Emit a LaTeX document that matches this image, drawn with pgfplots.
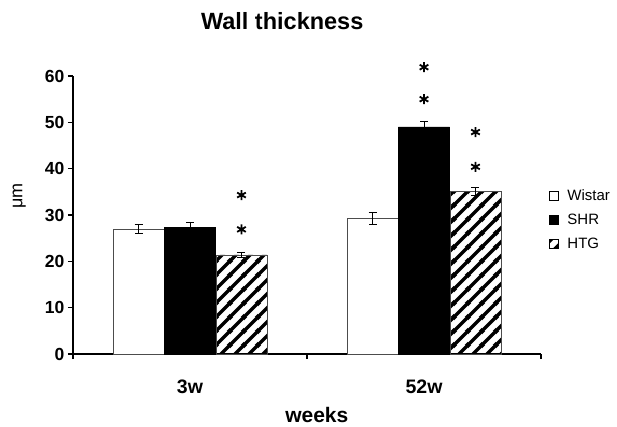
\documentclass[border=0pt]{standalone}
\usepackage{fontspec}
\setmainfont{Liberation Sans}
\usepackage{pgfplots}
\pgfplotsset{compat=1.18}
\usetikzlibrary{patterns.meta}
\tikzdeclarepattern{
  name=htgstripes,
  bounding box={(0pt,0pt) and (13.5pt,13.5pt)},
  tile size={(13.5pt,13.5pt)},
  code={
    \draw[line width=3.6pt] (-2pt,-2pt) -- (15.5pt,15.5pt);
    \draw[line width=3.6pt] (-2pt,11.5pt) -- (2pt,15.5pt);
    \draw[line width=3.6pt] (11.5pt,-2pt) -- (15.5pt,2pt);
  }
}
\begin{document}
\begin{tikzpicture}
\begin{axis}[
  scale only axis,
  width=468pt, height=278pt,
  xmin=0, xmax=2, ymin=0, ymax=60,
  clip=false,
  axis x line*=bottom, axis y line*=left,
  axis line style={line width=2pt, -},
  tick align=outside,
  major tick length=5pt,
  tick style={line width=1.6pt, black},
  ytick={0,10,...,60},
  yticklabel style={font=\fontsize{17.5}{20}\selectfont\bfseries},
  /pgf/number format/assume math mode=true,
  xtick={0,1,2}, xticklabels={},
  extra x ticks={0.5,1.5},
  extra x tick labels={3w,52w},
  extra x tick style={major tick length=0pt,
    tick label style={anchor=center, yshift=-33pt, font=\fontsize{19.5}{22}\selectfont\bfseries}},
  title={Wall thickness},
  title style={at={(0.447,1.176)}, anchor=center, font=\fontsize{23.5}{27}\selectfont\bfseries},
  xlabel={weeks},
  xlabel style={at={(0.521,-0.22)}, anchor=center, font=\fontsize{21}{24}\selectfont\bfseries},
  ylabel={μm},
  ylabel style={at={(-0.115,0.568)}, anchor=center, font=\fontsize{18}{21}\selectfont},
  legend style={at={(1.01,0.482)}, anchor=west, draw=none, fill=none,
    font=\fontsize{15}{18}\selectfont, row sep=8pt,
    /tikz/every odd column/.append style={column sep=7pt}},
  legend cell align=left,
  legend image code/.code={\draw[#1, draw=black, line width=0.6pt] (0pt,-4.5pt) rectangle (9pt,4.5pt);},
  error bars/y dir=both, error bars/y explicit,
  error bars/error bar style={line width=0.9pt, black},
  error bars/error mark options={line width=0.9pt, black, mark size=4pt, rotate=90},
]
\addplot[ybar, bar width=0.218, bar shift=0, fill=white, draw=black!70, line width=0.7pt]
  coordinates {(0.28,27.0) +- (0,0.9) (1.28,29.3) +- (0,1.3)};
\addlegendentry{Wistar}
\addplot[ybar, bar width=0.218, bar shift=0, fill=black, draw=black, line width=0.7pt]
  coordinates {(0.5,27.4) +- (0,1.1) (1.5,49.0) +- (0,1.1)};
\addlegendentry{SHR}
\addplot[ybar, bar width=0.218, bar shift=0, pattern=htgstripes, pattern color=black, draw=black!70, line width=0.7pt]
  coordinates {(0.72,21.4) +- (0,0.6) (1.72,35.1) +- (0,0.8)};
\addlegendentry{HTG}
\addplot[only marks, mark=asterisk, mark size=5pt, line width=1.8pt, black, forget plot,
  error bars/y dir=none]
  coordinates {(0.72,34.3) (0.72,26.9) (1.5,61.9) (1.5,55.0) (1.72,47.9) (1.72,40.4)};
\end{axis}
\pgfresetboundingbox
\path (-73pt,-72pt) rectangle (544pt,354pt);
\end{tikzpicture}
\end{document}
